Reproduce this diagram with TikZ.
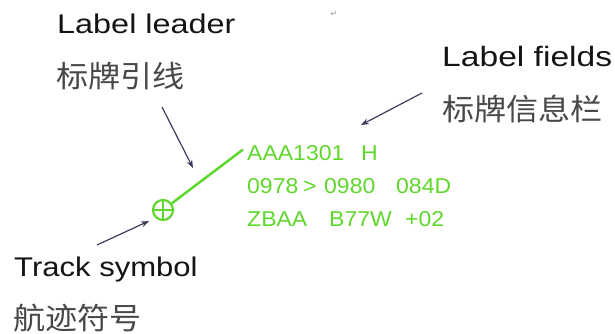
\documentclass[tikz,border=0pt]{standalone}
\usepackage{fontspec}
\usetikzlibrary{arrows.meta}
\newfontfamily\enfont[FakeStretch=1.2]{Liberation Sans}
\newfontfamily\enfontb[FakeStretch=1.15]{Liberation Sans}
\newfontfamily\cnfont[FakeStretch=1.07]{Noto Sans CJK SC}
\newfontfamily\grfont[FakeStretch=1.07]{Liberation Sans}
\newfontfamily\symfont{DejaVu Sans}
\definecolor{radargreen}{RGB}{95,215,45}
\definecolor{arrowcol}{RGB}{60,60,95}
\definecolor{cntext}{RGB}{72,72,72}
\definecolor{entext}{RGB}{20,20,20}
\tikzset{
  entitle/.style={anchor=base west,inner sep=0pt,text=entext,font=\enfont\fontsize{27}{30}\selectfont},
  cntitle/.style={anchor=base west,inner sep=0pt,text=cntext,font=\cnfont\fontsize{30}{33}\selectfont},
  field/.style={anchor=base west,inner sep=0pt,text=radargreen,font=\grfont\fontsize{21.5}{24}\selectfont},
  pointer/.style={draw=arrowcol,line width=1.2pt,-{Stealth[length=8pt,width=6pt]}},
  greenline/.style={draw=radargreen,line width=2.5pt},
}
\begin{document}
\begin{tikzpicture}[x=1pt,y=-1pt]
\useasboundingbox (0,0) rectangle (615,334);
% titles
\node[entitle] (tleader) at (57,34) {Label leader};
\node[cntitle] (cleader) at (56,87.5) {标牌引线};
\node[entitle,font=\enfont\fontsize{28}{30}\selectfont] (tfields) at (442,67) {Label fields};
\node[cntitle] (cfields) at (442,121) {标牌信息栏};
\node[entitle,font=\enfontb\fontsize{27}{30}\selectfont] (ttrack) at (14,276) {Track symbol};
\node[cntitle] (ctrack) at (13,329.5) {航迹符号};
\node[anchor=center,inner sep=0pt,text=black!40,font=\symfont\fontsize{8}{9}\selectfont] (ret) at (334,14) {↵};
% track symbol
\node[circle,draw=radargreen,line width=2.2pt,minimum size=20pt,inner sep=0pt] (track) at (163,210) {};
\draw[greenline,line width=2pt] (track.north) -- (track.south);
\draw[greenline,line width=2pt] (track.west) -- (track.east);
\coordinate (leadend) at (243,149.5);
\draw[greenline] (track) -- (leadend);
% label fields
\node[field] (f1a) at (247,160) {AAA1301};
\node[field] (f1b) at (361,160) {H};
\node[field] (f2a) at (247,193) {0978};
\node[field] (f2b) at (303,193) {>};
\node[field] (f2c) at (324,193) {0980};
\node[field] (f2d) at (396,193) {084D};
\node[field] (f3a) at (247,226) {ZBAA};
\node[field] (f3b) at (329,226) {B77W};
\node[field] (f3c) at (405,226) {+02};
% pointers
\coordinate (p1s) at (162,107);
\coordinate (p1e) at (193,168);
\draw[pointer] (p1s) -- (p1e);
\coordinate (p2s) at (422,93);
\coordinate (p2e) at (361,125);
\draw[pointer] (p2s) -- (p2e);
\coordinate (p3s) at (97,245);
\coordinate (p3e) at (149,221);
\draw[pointer] (p3s) -- (p3e);
\end{tikzpicture}
\end{document}
